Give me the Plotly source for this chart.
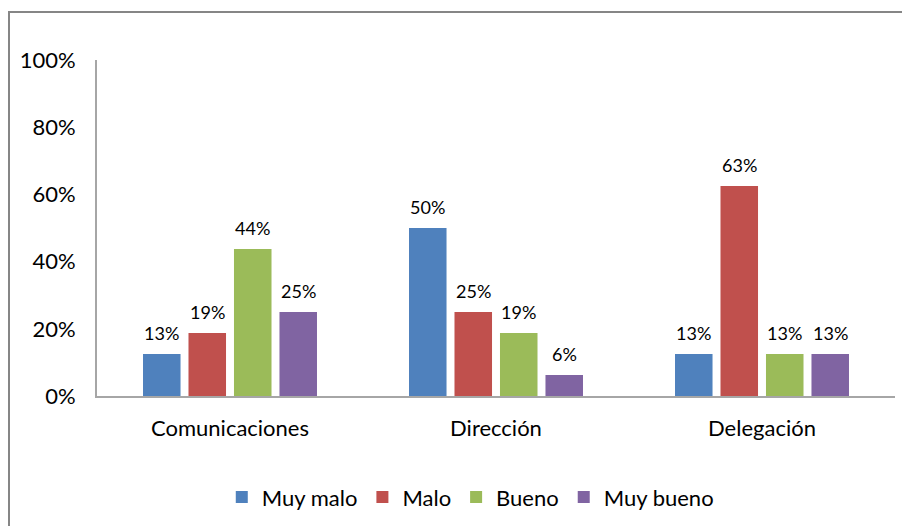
import plotly.graph_objects as go

categorias = ['Comunicaciones', 'Dirección', 'Delegación']
series = ['Muy malo', 'Malo', 'Bueno', 'Muy bueno']
valores = {
    'Muy malo': [0.125, 0.50, 0.125],
    'Malo': [0.1875, 0.25, 0.625],
    'Bueno': [0.4375, 0.1875, 0.125],
    'Muy bueno': [0.25, 0.0625, 0.125],
}
colores = ['#4F81BD', '#C0504D', '#9BBB59', '#8064A2']

bargap = 0.316
slot = (1 - bargap) / len(series)

fig = go.Figure()
for i, (s, c) in enumerate(zip(series, colores)):
    fig.add_trace(go.Bar(x=categorias, y=valores[s], name=s,
                         marker=dict(color=c, line=dict(width=0))))
    # etiquetas de datos, un poco separadas de la barra
    for j, v in enumerate(valores[s]):
        fig.add_annotation(x=j + (i - 1.5) * slot, y=v, xref='x', yref='y',
                           text='%d%%' % round(v * 100 + 1e-9),
                           showarrow=False, yanchor='bottom', yshift=8,
                           font=dict(size=18, color='#000000'))

fig.update_layout(width=910, height=526,
                  margin=dict(l=89, r=23, t=52, b=138, autoexpand=False),
                  paper_bgcolor='white', plot_bgcolor='white',
                  font=dict(family='Lato', size=22, color='#000000'),
                  barmode='group', bargap=bargap, bargroupgap=0.175,
                  showlegend=True,
                  legend=dict(orientation='h', x=0.508, xanchor='center',
                              xref='container', yref='container',
                              y=0.07, yanchor='middle', font=dict(size=22),
                              itemwidth=30, traceorder='normal'))
fig.update_xaxes(showline=True, linecolor='#A6A6A6', linewidth=2,
                 ticks='outside', ticklen=12, tickcolor='rgba(0,0,0,0)',
                 showgrid=False, automargin=False)
fig.update_yaxes(range=[0, 1], tickformat='.0%', dtick=0.2,
                 showline=True, linecolor='#A6A6A6', linewidth=2,
                 showgrid=False, zeroline=False, automargin=False,
                 ticks='outside', ticklen=15, tickcolor='rgba(0,0,0,0)')

# marco del gráfico
fig.add_shape(type='rect', xref='paper', yref='paper',
              x0=-88 / 798, x1=1.05, y0=-0.45, y1=(388 - 4) / 336,
              line=dict(color='#868686', width=2), layer='below')

fig.write_html("out.html")
